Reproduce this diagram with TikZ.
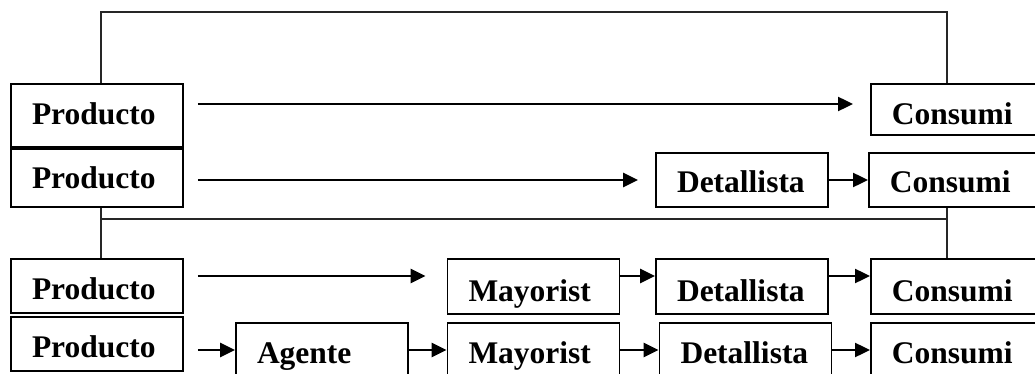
\documentclass[tikz,border=0pt]{standalone}
\usepackage{fontspec}
\setmainfont{Liberation Serif}
\usepackage{tikz}
\usetikzlibrary{arrows.meta}

\begin{document}
\begin{tikzpicture}[x=1pt,y=-1pt,
  box/.style={draw=black,line width=1.8pt,text width=130pt,align=left,inner xsep=21pt,inner ysep=0pt,
    text height=27pt,text depth=1pt,minimum height=54pt,font=\fontsize{31.5}{36}\selectfont\bfseries},
  endbox/.style={box,anchor=west,text width=300pt},
  arr/.style={line width=2.4pt,-{Triangle[length=15pt,width=14pt]}},
  link/.style={line width=1.4pt,black!85}]
\useasboundingbox (0,0) rectangle (1035,374);
\clip (0,0) rectangle (1035,374);
\coordinate (top) at (500,12);
\coordinate (mid) at (500,219);
\coordinate (r1) at (0,104);
\coordinate (r3) at (0,276);
% rows of boxes
\node (p1) at (97,115.5) [box,minimum height=63pt,text depth=8pt] {Producto};
\node (c1) at (870,109.5) [endbox,minimum height=51pt,text height=31pt] {Consumi};
\node (p2) at (97,178) [box,minimum height=58pt,text depth=5pt] {Producto};
\node (d2) at (742,180) [box] {Detallista};
\node (c2) at (868,180) [endbox] {Consumi};
\node (p3) at (97,286) [box] {Producto};
\node (m3) at (533.5,286.5) [box,minimum height=55pt,text height=30pt] {Mayorist};
\node (d3) at (742,286.5) [box,minimum height=55pt,text height=30pt] {Detallista};
\node (c3) at (870,286.5) [endbox,minimum height=55pt,text height=30pt] {Consumi};
\node (p4) at (97,344) [box] {Producto};
\node (a4) at (322,350) [box] {Agente};
\node (m4) at (533.5,350) [box] {Mayorist};
\node (d4) at (745.5,350) [box] {Detallista};
\node (c4) at (870,350) [endbox] {Consumi};
% arrows
\draw[arr,shorten <=14pt,shorten >=17pt] (p1.east |- r1) -- (c1.west |- r1);
\draw[arr,shorten <=14pt,shorten >=17pt] (p2.east |- d2.west) -- (d2.west);
\draw[arr] (d2.east) -- (c2.west);
\draw[arr,shorten <=14pt,shorten >=21pt] (p3.east |- r3) -- (m3.west |- r3);
\draw[arr] (m3.east |- r3) -- (d3.west |- r3);
\draw[arr] (d3.east |- r3) -- (c3.west |- r3);
\draw[arr,shorten <=14pt] (p4.east |- a4.west) -- (a4.west);
\draw[arr] (a4.east) -- (m4.west);
\draw[arr] (m4.east) -- (d4.west);
\draw[arr] (d4.east) -- (c4.west);
% brackets
\draw[link] ([xshift=4pt]p1.north) |- (top) -| ([xshift=77pt]c1.north west);
\draw[link] ([xshift=4pt]p2.south) |- (mid) -| ([xshift=79pt]c2.south west);
\draw[link] ([xshift=4pt]p2.south) -- ([xshift=4pt]p3.north);
\draw[link] ([xshift=79pt]c2.south west) -- ([xshift=77pt]c3.north west);
\end{tikzpicture}
\end{document}
